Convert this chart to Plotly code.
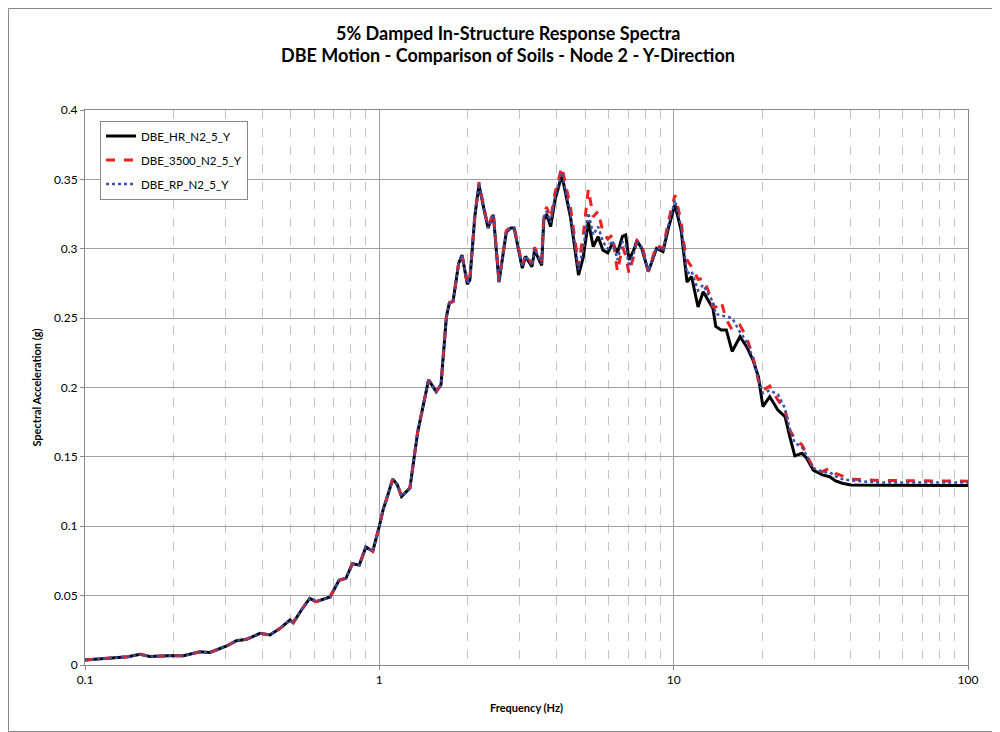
import plotly.graph_objects as go

freq = [0.10, 0.12, 0.14, 0.154, 0.166, 0.19, 0.216, 0.246, 0.266, 0.303, 0.327, 0.354,
        0.393, 0.425, 0.46, 0.497, 0.51, 0.545, 0.58, 0.61, 0.68, 0.73, 0.77, 0.81, 0.855,
        0.90, 0.95, 1.00, 1.03, 1.06, 1.11, 1.15, 1.19, 1.27, 1.35, 1.47, 1.56, 1.62, 1.69,
        1.73, 1.78, 1.86, 1.91, 1.99, 2.03, 2.11, 2.18, 2.26, 2.34, 2.44, 2.55, 2.7, 2.8,
        2.87, 3.06, 3.14, 3.3, 3.37, 3.56, 3.62, 3.7, 3.82, 3.95, 4.17, 4.3, 4.46, 4.75,
        4.93, 5.13, 5.33, 5.54, 5.75, 5.97, 6.2, 6.44, 6.7, 6.87, 7.05, 7.32, 7.5, 7.8,
        8.2, 8.75, 9.2, 9.6, 10.1, 10.6, 10.8, 11.1, 11.5, 12.1, 12.6, 13.1, 13.6, 13.9,
        14.5, 15.1, 15.8, 16.8, 17.7, 18.6, 19.4, 20.1, 21.2, 22.6, 23.9, 24.8, 25.8, 27.3,
        28.3, 29.8, 32, 33.9, 35.5, 37.4, 40, 50, 70, 100]

common_low = [0.0036, 0.0050, 0.0060, 0.0077, 0.0062, 0.0066, 0.0067, 0.0095, 0.0090, 0.0137,
              0.0175, 0.0185, 0.0228, 0.0216, 0.0264, 0.0324, 0.0305, 0.040, 0.048, 0.0457,
              0.049, 0.061, 0.0625, 0.073, 0.072, 0.085, 0.082, 0.100, 0.112, 0.120, 0.134,
              0.130, 0.1215, 0.1275, 0.168, 0.2055, 0.197, 0.202, 0.251, 0.261, 0.262,
              0.2895, 0.2955, 0.2745, 0.2775, 0.323]

hr_high = [0.346, 0.330, 0.315, 0.3245, 0.276, 0.312, 0.315, 0.315, 0.286, 0.2945, 0.287,
           0.299, 0.288, 0.3206, 0.325, 0.316, 0.335, 0.353, 0.340, 0.323, 0.281, 0.294,
           0.3196, 0.3015, 0.3087, 0.299, 0.297, 0.304, 0.297, 0.309, 0.310, 0.292, 0.299,
           0.306, 0.300, 0.2835, 0.3003, 0.298, 0.315, 0.3316, 0.3135, 0.299, 0.276, 0.280,
           0.258, 0.269, 0.263, 0.257, 0.244, 0.2415, 0.2415, 0.226, 0.2366, 0.2294,
           0.2198, 0.2078, 0.1862, 0.1934, 0.1838, 0.179, 0.1646, 0.1507, 0.1526, 0.149,
           0.1405, 0.137, 0.1357, 0.1326, 0.131, 0.1298, 0.1295, 0.1293, 0.1293]

s3500_high = [0.348, 0.331, 0.316, 0.326, 0.277, 0.313, 0.316, 0.316, 0.288, 0.296, 0.289,
              0.301, 0.291, 0.325, 0.330, 0.322, 0.340, 0.359, 0.346, 0.330, 0.288, 0.310,
              0.343, 0.323, 0.327, 0.312, 0.307, 0.310, 0.2835, 0.3015, 0.295, 0.2823, 0.295,
              0.306, 0.303, 0.2835, 0.303, 0.300, 0.320, 0.3387, 0.320, 0.305, 0.292, 0.287,
              0.278, 0.2786, 0.270, 0.258, 0.258, 0.262, 0.249, 0.2415, 0.245, 0.236, 0.222,
              0.205, 0.198, 0.201, 0.191, 0.184, 0.1694, 0.163, 0.1586, 0.152, 0.1418,
              0.1394, 0.1418, 0.138, 0.136, 0.134, 0.133, 0.1325, 0.1325]

rp_high = [0.347, 0.330, 0.315, 0.325, 0.276, 0.312, 0.315, 0.315, 0.287, 0.295, 0.288,
           0.300, 0.289, 0.323, 0.327, 0.319, 0.337, 0.355, 0.342, 0.325, 0.285, 0.300,
           0.326, 0.310, 0.316, 0.305, 0.300, 0.306, 0.292, 0.305, 0.303, 0.287, 0.297,
           0.305, 0.301, 0.2835, 0.301, 0.299, 0.317, 0.335, 0.316, 0.302, 0.282, 0.284,
           0.270, 0.274, 0.267, 0.262, 0.253, 0.252, 0.251, 0.250, 0.240, 0.233, 0.221,
           0.206, 0.196, 0.198, 0.195, 0.185, 0.170, 0.160, 0.157, 0.151, 0.142, 0.139,
           0.139, 0.136, 0.134, 0.133, 0.1315, 0.1315, 0.1315]

hr = common_low + hr_high
s3500 = common_low + s3500_high
rp = common_low + rp_high

names = ["DBE_HR_N2_5_Y", "DBE_3500_N2_5_Y", "DBE_RP_N2_5_Y"]
title_lines = ["5% Damped In-Structure Response Spectra",
               "DBE Motion - Comparison of Soils - Node 2 - Y-Direction"]
y_ticks = [0, 0.05, 0.1, 0.15, 0.2, 0.25, 0.3, 0.35, 0.4]
y_tick_labels = ["0", "0.05", "0.1", "0.15", "0.2", "0.25", "0.3", "0.35", "0.4"]
x_ticks = [0.1, 1, 10, 100]
x_tick_labels = ["0.1", "1", "10", "100"]

fig = go.Figure()
fig.add_trace(go.Scatter(x=freq, y=hr, name=names[0], mode="lines", legendgroup="a",
                         line=dict(color="black", width=3)))
fig.add_trace(go.Scatter(x=freq, y=s3500, name=names[1], mode="lines", legendgroup="b",
                         line=dict(color="#ee2020", width=3, dash="dash")))
fig.add_trace(go.Scatter(x=freq, y=rp, name=names[2], mode="lines", legendgroup="c",
                         line=dict(color="#3a4fa8", width=2.5, dash="dot")))

font_family = "Lato, 'Liberation Sans Narrow', Arial, sans-serif"

# Page body has an 8px margin; figure sized/margined so plot area lands at
# page x 85..968, y 110..665.
W, H = 992, 724
ml, mr, mt, mb = 77, 32, 102, 67
pw, ph = W - ml - mr, H - mt - mb

def px_to_paper_y(py):
    return (H - mb - py) / ph

title_x = (500 - ml) / pw

fig.update_layout(
    width=W, height=H,
    margin=dict(l=ml, r=mr, t=mt, b=mb),
    paper_bgcolor="white", plot_bgcolor="white",
    font=dict(family=font_family, color="black", size=12),
    showlegend=True,
    legend=dict(x=0.017, y=0.981, xanchor="left", yanchor="top",
                bgcolor="white", bordercolor="#888888", borderwidth=1,
                font=dict(size=11.5, family=font_family), tracegroupgap=5),
    xaxis=dict(type="log", range=[-1, 2], tickvals=x_ticks, ticktext=x_tick_labels,
               showgrid=True, gridcolor="#a0a0a0", gridwidth=1,
               showline=True, linecolor="#888888", mirror=True,
               ticks="outside", ticklen=4, tickcolor="#888888",
               minor=dict(dtick="D1", showgrid=True, gridcolor="#c4c4c4", griddash="dash", ticks=""),
               title=dict(text="<b>Frequency (Hz)</b>", font=dict(size=11), standoff=17),
               tickfont=dict(size=12)),
    yaxis=dict(range=[0, 0.4], tickvals=y_ticks, ticktext=y_tick_labels,
               showgrid=True, gridcolor="#a0a0a0", gridwidth=1,
               showline=True, linecolor="#888888", mirror=True, zeroline=False,
               ticks="outside", ticklen=4, tickcolor="#888888",
               title=dict(text="<b>Spectral Acceleration (g)</b>", font=dict(size=11), standoff=10),
               tickfont=dict(size=12)),
    annotations=[
        dict(text="<b>" + title_lines[0] + "</b>", xref="paper", yref="paper",
             x=title_x, y=px_to_paper_y(25), xanchor="center", yanchor="middle",
             showarrow=False, font=dict(size=18, family=font_family)),
        dict(text="<b>" + title_lines[1] + "</b>", xref="paper", yref="paper",
             x=title_x, y=px_to_paper_y(47), xanchor="center", yanchor="middle",
             showarrow=False, font=dict(size=18, family=font_family)),
    ],
    shapes=[dict(type="rect", xref="paper", yref="paper",
                 x0=(0.5 - ml) / pw, x1=(W - 0.5 - ml) / pw,
                 y0=px_to_paper_y(H - 0.5), y1=px_to_paper_y(0.5),
                 line=dict(color="#888888", width=1), layer="below")],
)

fig.write_html("out.html")
